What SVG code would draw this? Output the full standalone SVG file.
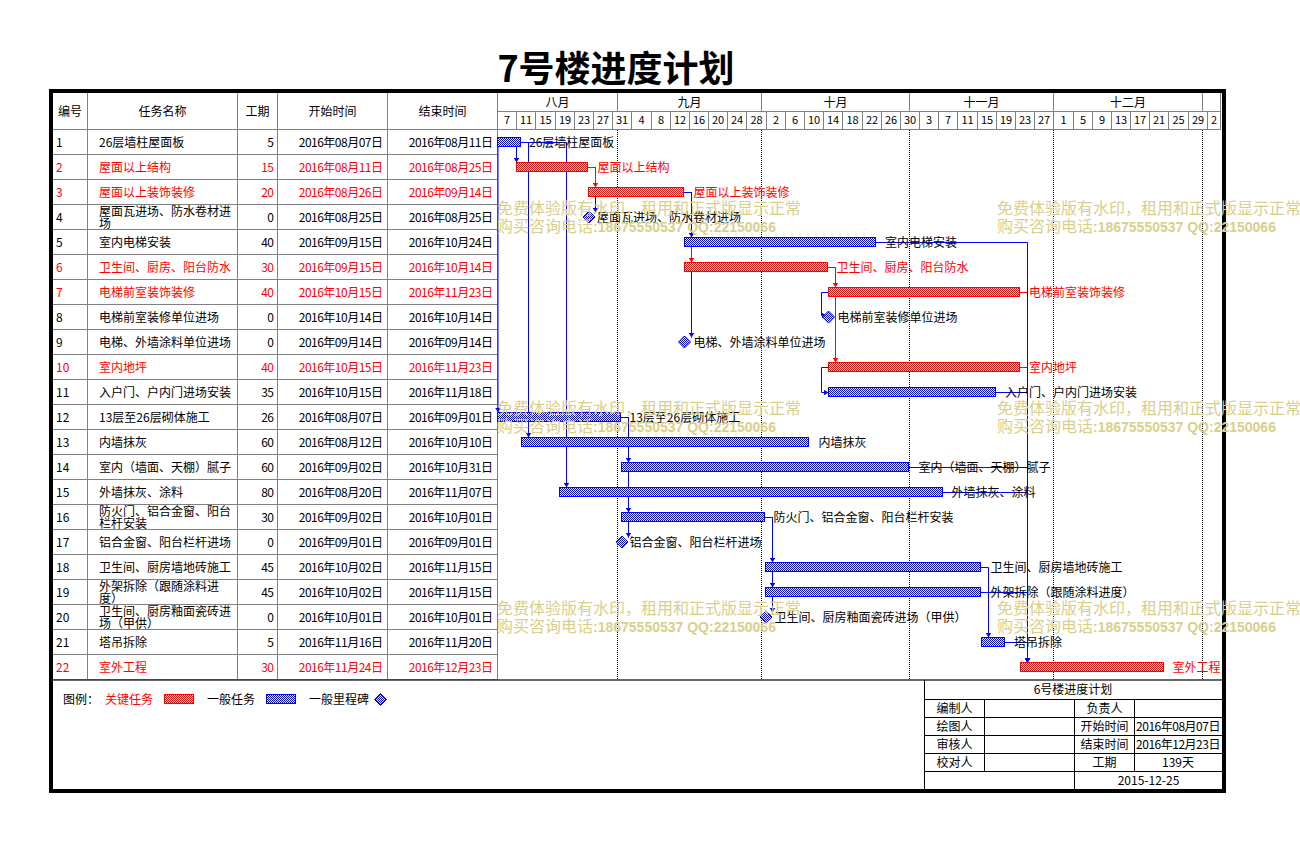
<svg xmlns="http://www.w3.org/2000/svg" width="1300" height="841" viewBox="0 0 1300 841">
<defs>
<style>
text{font-family:"Noto Sans CJK SC","Noto Sans",sans-serif;font-size:12px;fill:#000}
.r{fill:#f00}
.m{text-anchor:middle}
.e{text-anchor:end;letter-spacing:-0.5px}
.dt{letter-spacing:-0.5px}
.d{font-size:11px;text-anchor:middle}
.g{stroke:#808080;stroke-width:1;fill:none}
.k{stroke:#000;stroke-width:1;fill:none}
.dot{stroke:#000;stroke-width:1;stroke-dasharray:1 1;fill:none}
.lb{stroke:#00f;stroke-width:1;fill:none;marker-end:url(#ab)}
.lr{stroke:#f00;stroke-width:1;fill:none;marker-end:url(#ar)}
.bb{fill:url(#pb);stroke:#00f;stroke-width:1}
.br{fill:url(#pr);stroke:#f00;stroke-width:1}
.ms{fill:url(#pb);stroke:#00f;stroke-width:1}
.wm{font-size:16px;fill:#d9cf8c}
.wb{font-family:"Liberation Sans",sans-serif;font-size:14px;font-weight:bold;fill:#d9cf8c}
</style>
<pattern id="pb" width="2" height="2" patternUnits="userSpaceOnUse"><rect width="2" height="2" fill="#fff"/><rect width="1" height="1" fill="#00f"/><rect x="1" y="1" width="1" height="1" fill="#00f"/></pattern>
<pattern id="pr" width="2" height="2" patternUnits="userSpaceOnUse"><rect width="2" height="2" fill="#fff"/><rect width="1" height="1" fill="#f00"/><rect x="1" y="1" width="1" height="1" fill="#f00"/></pattern>
<marker id="ab" viewBox="0 0 5 6" refX="5" refY="3" markerWidth="5" markerHeight="6" markerUnits="userSpaceOnUse" orient="auto"><path d="M0,0 L5,3 L0,6 z" fill="#00f"/></marker>
<marker id="ar" viewBox="0 0 5 6" refX="5" refY="3" markerWidth="5" markerHeight="6" markerUnits="userSpaceOnUse" orient="auto"><path d="M0,0 L5,3 L0,6 z" fill="#f00"/></marker>
</defs>
<rect width="1300" height="841" fill="#fff"/>
<text x="616" y="82" class="m" style="font-size:36px;font-weight:bold">7号楼进度计划</text>

<g id="grid">
<path class="g" d="M53,129.5 H1220.5 M497.5,111.5 H1220.5 M53,154.5 H497.5 M53,179.5 H497.5 M53,204.5 H497.5 M53,229.5 H497.5 M53,254.5 H497.5 M53,279.5 H497.5 M53,304.5 H497.5 M53,329.5 H497.5 M53,354.5 H497.5 M53,379.5 H497.5 M53,404.5 H497.5 M53,429.5 H497.5 M53,454.5 H497.5 M53,479.5 H497.5 M53,504.5 H497.5 M53,529.5 H497.5 M53,554.5 H497.5 M53,579.5 H497.5 M53,604.5 H497.5 M53,629.5 H497.5 M53,654.5 H497.5 M53,679.5 H497.5"/>
<path class="g" d="M87.5,93 V679.5 M237.5,93 V679.5 M277.5,93 V679.5 M387.5,93 V679.5 M497.5,93 V679.5"/>
<path class="g" d="M617.5,93 V111.5 M761.5,93 V111.5 M909.5,93 V111.5 M1053.5,93 V111.5 M1202.5,93 V111.5 M1220.5,93 V129.5"/>
<path class="g" d="M516.5,111.5V129.5M535.5,111.5V129.5M555.5,111.5V129.5M574.5,111.5V129.5M593.5,111.5V129.5M612.5,111.5V129.5M631.5,111.5V129.5M651.5,111.5V129.5M670.5,111.5V129.5M689.5,111.5V129.5M708.5,111.5V129.5M727.5,111.5V129.5M746.5,111.5V129.5M766.5,111.5V129.5M785.5,111.5V129.5M804.5,111.5V129.5M823.5,111.5V129.5M842.5,111.5V129.5M862.5,111.5V129.5M881.5,111.5V129.5M900.5,111.5V129.5M919.5,111.5V129.5M938.5,111.5V129.5M957.5,111.5V129.5M977.5,111.5V129.5M996.5,111.5V129.5M1015.5,111.5V129.5M1034.5,111.5V129.5M1053.5,111.5V129.5M1073.5,111.5V129.5M1092.5,111.5V129.5M1111.5,111.5V129.5M1130.5,111.5V129.5M1149.5,111.5V129.5M1168.5,111.5V129.5M1188.5,111.5V129.5M1207.5,111.5V129.5"/>
<path class="dot" d="M617.5,130 V679 M761.5,130 V679 M909.5,130 V679 M1053.5,130 V679 M1202.5,130 V679"/>
<text x="70" y="115.5" class="m">编号</text>
<text x="162.5" y="115.5" class="m">任务名称</text>
<text x="257.5" y="115.5" class="m">工期</text>
<text x="332.5" y="115.5" class="m">开始时间</text>
<text x="442.5" y="115.5" class="m">结束时间</text>
<text x="557.5" y="106.5" class="m">八月</text>
<text x="689.5" y="106.5" class="m">九月</text>
<text x="835.5" y="106.5" class="m">十月</text>
<text x="981.5" y="106.5" class="m">十一月</text>
<text x="1128" y="106.5" class="m">十二月</text>
<text y="124" class="d"><tspan x="507">7</tspan><tspan x="526">11</tspan><tspan x="545.5">15</tspan><tspan x="565">19</tspan><tspan x="584">23</tspan><tspan x="603">27</tspan><tspan x="622">31</tspan><tspan x="641.5">4</tspan><tspan x="661">8</tspan><tspan x="680">12</tspan><tspan x="699">16</tspan><tspan x="718">20</tspan><tspan x="737">24</tspan><tspan x="756.5">28</tspan><tspan x="776">2</tspan><tspan x="795">6</tspan><tspan x="814">10</tspan><tspan x="833">14</tspan><tspan x="852.5">18</tspan><tspan x="872">22</tspan><tspan x="891">26</tspan><tspan x="910">30</tspan><tspan x="929">3</tspan><tspan x="948">7</tspan><tspan x="967.5">11</tspan><tspan x="987">15</tspan><tspan x="1006">19</tspan><tspan x="1025">23</tspan><tspan x="1044">27</tspan><tspan x="1063.5">1</tspan><tspan x="1083">5</tspan><tspan x="1102">9</tspan><tspan x="1121">13</tspan><tspan x="1140">17</tspan><tspan x="1159">21</tspan><tspan x="1178.5">25</tspan><tspan x="1198">29</tspan><tspan x="1214">2</tspan></text>
</g>

<g id="connectors">
<path class="lb" d="M498,146.5 V412.5"/>
<path class="lb" d="M516.5,146.5 V162.5"/>
<path class="lb" d="M520.5,142.5 H528.5 V437.5"/>
<path class="lb" d="M520.5,142.5 H566.5 V487.5"/>
<path class="lb" d="M587.5,167.5 H595.5 V212.5"/>
<path class="lr" d="M587.5,167.5 H595.5 V187.5"/>
<path class="lb" d="M683.5,192.5 H691.5 V337.5"/>
<path class="lr" d="M683.5,192.5 H691.5 V262.5"/>
<path class="lb" d="M683.5,192.5 H691.5 V237.5"/>
<path class="lr" d="M827.5,267.5 H835.5 V362.5"/>
<path class="lr" d="M827.5,267.5 H835.5 V287.5"/>
<path class="lb" d="M828.5,292.5 H821.5 V315.5 H826.5"/>
<path class="lb" d="M828.5,367.5 H821.5 V392.5 H828.5"/>
<path class="lb" d="M620.5,417.5 H628.5 V537.5"/>
<path class="lb" d="M620.5,417.5 H628.5 V512.5"/>
<path class="lb" d="M620.5,417.5 H628.5 V462.5"/>
<path class="lb" d="M764.5,517.5 H772.5 V612.5"/>
<path class="lb" d="M764.5,517.5 H772.5 V587.5"/>
<path class="lb" d="M764.5,517.5 H772.5 V562.5"/>
<path class="lb" d="M980.5,567.5 H988.5 V637.5"/>
<path class="lr" d="M1019.5,292.5 H1027.5 V662.5"/>
<path class="lr" d="M1019.5,367.5 H1027.5 V662.5"/>
<path class="lb" d="M875.5,242.5 H1027.5 V662.5"/>
<path class="lb" d="M995.5,392.5 H1027.5 V662.5"/>
<path class="lb" d="M908.5,467.5 H1027.5 V662.5"/>
<path class="lb" d="M942.5,492.5 H1027.5 V662.5"/>
<path class="lb" d="M980.5,592.5 H1027.5 V662.5"/>
<path class="lb" d="M1004.5,642.5 H1027.5 V662.5"/>
</g>

<g id="task1"><text x="56" y="146.5">1</text><text x="99" y="146.5">26层墙柱屋面板</text><text x="273.5" y="146.5" class="e">5</text><text x="382.5" y="146.5" class="e">2016年08月07日</text><text x="492.5" y="146.5" class="e">2016年08月11日</text><rect class="bb" x="497.5" y="137.5" width="23" height="9"/><text x="529" y="146.5">26层墙柱屋面板</text></g>
<g id="task2"><text x="56" y="171.5" class="r">2</text><text x="99" y="171.5" class="r">屋面以上结构</text><text x="273.5" y="171.5" class="e r">15</text><text x="382.5" y="171.5" class="e r">2016年08月11日</text><text x="492.5" y="171.5" class="e r">2016年08月25日</text><rect class="br" x="516.5" y="162.5" width="71" height="9"/><text x="597.5" y="171.5" class="r">屋面以上结构</text></g>
<g id="task3"><text x="56" y="196.5" class="r">3</text><text x="99" y="196.5" class="r">屋面以上装饰装修</text><text x="273.5" y="196.5" class="e r">20</text><text x="382.5" y="196.5" class="e r">2016年08月26日</text><text x="492.5" y="196.5" class="e r">2016年09月14日</text><rect class="br" x="588.5" y="187.5" width="95" height="9"/><text x="693.5" y="196.5" class="r">屋面以上装饰装修</text></g>
<g id="task4"><text x="56" y="221.5">4</text><text x="99" y="215.5">屋面瓦进场、防水卷材进</text><text x="99" y="227.5">场</text><text x="273.5" y="221.5" class="e">0</text><text x="382.5" y="221.5" class="e">2016年08月25日</text><text x="492.5" y="221.5" class="e">2016年08月25日</text><polygon class="ms" points="589,211 595,217 589,223 583,217"/><text x="597" y="221.5">屋面瓦进场、防水卷材进场</text></g>
<g id="task5"><text x="56" y="246.5">5</text><text x="99" y="246.5">室内电梯安装</text><text x="273.5" y="246.5" class="e">40</text><text x="382.5" y="246.5" class="e">2016年09月15日</text><text x="492.5" y="246.5" class="e">2016年10月24日</text><rect class="bb" x="684.5" y="237.5" width="191" height="9"/><text x="885" y="246.5">室内电梯安装</text></g>
<g id="task6"><text x="56" y="271.5" class="r">6</text><text x="99" y="271.5" class="r">卫生间、厨房、阳台防水</text><text x="273.5" y="271.5" class="e r">30</text><text x="382.5" y="271.5" class="e r">2016年09月15日</text><text x="492.5" y="271.5" class="e r">2016年10月14日</text><rect class="br" x="684.5" y="262.5" width="143" height="9"/><text x="836.5" y="271.5" class="r">卫生间、厨房、阳台防水</text></g>
<g id="task7"><text x="56" y="296.5" class="r">7</text><text x="99" y="296.5" class="r">电梯前室装饰装修</text><text x="273.5" y="296.5" class="e r">40</text><text x="382.5" y="296.5" class="e r">2016年10月15日</text><text x="492.5" y="296.5" class="e r">2016年11月23日</text><rect class="br" x="828.5" y="287.5" width="191" height="9"/><text x="1029" y="296.5" class="r">电梯前室装饰装修</text></g>
<g id="task8"><text x="56" y="321.5">8</text><text x="99" y="321.5">电梯前室装修单位进场</text><text x="273.5" y="321.5" class="e">0</text><text x="382.5" y="321.5" class="e">2016年10月14日</text><text x="492.5" y="321.5" class="e">2016年10月14日</text><polygon class="ms" points="828.5,311 834.5,317 828.5,323 822.5,317"/><text x="837.5" y="321.5">电梯前室装修单位进场</text></g>
<g id="task9"><text x="56" y="346.5">9</text><text x="99" y="346.5">电梯、外墙涂料单位进场</text><text x="273.5" y="346.5" class="e">0</text><text x="382.5" y="346.5" class="e">2016年09月14日</text><text x="492.5" y="346.5" class="e">2016年09月14日</text><polygon class="ms" points="684.5,336 690.5,342 684.5,348 678.5,342"/><text x="693.5" y="346.5">电梯、外墙涂料单位进场</text></g>
<g id="task10"><text x="56" y="371.5" class="r">10</text><text x="99" y="371.5" class="r">室内地坪</text><text x="273.5" y="371.5" class="e r">40</text><text x="382.5" y="371.5" class="e r">2016年10月15日</text><text x="492.5" y="371.5" class="e r">2016年11月23日</text><rect class="br" x="828.5" y="362.5" width="191" height="9"/><text x="1029" y="371.5" class="r">室内地坪</text></g>
<g id="task11"><text x="56" y="396.5">11</text><text x="99" y="396.5">入户门、户内门进场安装</text><text x="273.5" y="396.5" class="e">35</text><text x="382.5" y="396.5" class="e">2016年10月15日</text><text x="492.5" y="396.5" class="e">2016年11月18日</text><rect class="bb" x="828.5" y="387.5" width="167" height="9"/><text x="1005" y="396.5">入户门、户内门进场安装</text></g>
<g id="task12"><text x="56" y="421.5">12</text><text x="99" y="421.5">13层至26层砌体施工</text><text x="273.5" y="421.5" class="e">26</text><text x="382.5" y="421.5" class="e">2016年08月07日</text><text x="492.5" y="421.5" class="e">2016年09月01日</text><rect class="bb" x="497.5" y="412.5" width="123" height="9"/><text x="629.5" y="421.5">13层至26层砌体施工</text></g>
<g id="task13"><text x="56" y="446.5">13</text><text x="99" y="446.5">内墙抹灰</text><text x="273.5" y="446.5" class="e">60</text><text x="382.5" y="446.5" class="e">2016年08月12日</text><text x="492.5" y="446.5" class="e">2016年10月10日</text><rect class="bb" x="521.5" y="437.5" width="287" height="9"/><text x="818.5" y="446.5">内墙抹灰</text></g>
<g id="task14"><text x="56" y="471.5">14</text><text x="99" y="471.5">室内（墙面、天棚）腻子</text><text x="273.5" y="471.5" class="e">60</text><text x="382.5" y="471.5" class="e">2016年09月02日</text><text x="492.5" y="471.5" class="e">2016年10月31日</text><rect class="bb" x="621.5" y="462.5" width="287" height="9"/><text x="918.5" y="471.5">室内（墙面、天棚）腻子</text></g>
<g id="task15"><text x="56" y="496.5">15</text><text x="99" y="496.5">外墙抹灰、涂料</text><text x="273.5" y="496.5" class="e">80</text><text x="382.5" y="496.5" class="e">2016年08月20日</text><text x="492.5" y="496.5" class="e">2016年11月07日</text><rect class="bb" x="559.5" y="487.5" width="383" height="9"/><text x="951.5" y="496.5">外墙抹灰、涂料</text></g>
<g id="task16"><text x="56" y="521.5">16</text><text x="99" y="515.5">防火门、铝合金窗、阳台</text><text x="99" y="527.5">栏杆安装</text><text x="273.5" y="521.5" class="e">30</text><text x="382.5" y="521.5" class="e">2016年09月02日</text><text x="492.5" y="521.5" class="e">2016年10月01日</text><rect class="bb" x="621.5" y="512.5" width="143" height="9"/><text x="773.5" y="521.5">防火门、铝合金窗、阳台栏杆安装</text></g>
<g id="task17"><text x="56" y="546.5">17</text><text x="99" y="546.5">铝合金窗、阳台栏杆进场</text><text x="273.5" y="546.5" class="e">0</text><text x="382.5" y="546.5" class="e">2016年09月01日</text><text x="492.5" y="546.5" class="e">2016年09月01日</text><polygon class="ms" points="622,536 628,542 622,548 616,542"/><text x="629.5" y="546.5">铝合金窗、阳台栏杆进场</text></g>
<g id="task18"><text x="56" y="571.5">18</text><text x="99" y="571.5">卫生间、厨房墙地砖施工</text><text x="273.5" y="571.5" class="e">45</text><text x="382.5" y="571.5" class="e">2016年10月02日</text><text x="492.5" y="571.5" class="e">2016年11月15日</text><rect class="bb" x="765.5" y="562.5" width="215" height="9"/><text x="990.5" y="571.5">卫生间、厨房墙地砖施工</text></g>
<g id="task19"><text x="56" y="596.5">19</text><text x="99" y="590.5">外架拆除（跟随涂料进</text><text x="99" y="602.5">度）</text><text x="273.5" y="596.5" class="e">45</text><text x="382.5" y="596.5" class="e">2016年10月02日</text><text x="492.5" y="596.5" class="e">2016年11月15日</text><rect class="bb" x="765.5" y="587.5" width="215" height="9"/><text x="990.5" y="596.5">外架拆除（跟随涂料进度）</text></g>
<g id="task20"><text x="56" y="621.5">20</text><text x="99" y="615.5">卫生间、厨房釉面瓷砖进</text><text x="99" y="627.5">场（甲供）</text><text x="273.5" y="621.5" class="e">0</text><text x="382.5" y="621.5" class="e">2016年10月01日</text><text x="492.5" y="621.5" class="e">2016年10月01日</text><polygon class="ms" points="766,611 772,617 766,623 760,617"/><text x="774.5" y="621.5">卫生间、厨房釉面瓷砖进场（甲供）</text></g>
<g id="task21"><text x="56" y="646.5">21</text><text x="99" y="646.5">塔吊拆除</text><text x="273.5" y="646.5" class="e">5</text><text x="382.5" y="646.5" class="e">2016年11月16日</text><text x="492.5" y="646.5" class="e">2016年11月20日</text><rect class="bb" x="981.5" y="637.5" width="23" height="9"/><text x="1014" y="646.5">塔吊拆除</text></g>
<g id="task22"><text x="56" y="671.5" class="r">22</text><text x="99" y="671.5" class="r">室外工程</text><text x="273.5" y="671.5" class="e r">30</text><text x="382.5" y="671.5" class="e r">2016年11月24日</text><text x="492.5" y="671.5" class="e r">2016年12月23日</text><rect class="br" x="1020.5" y="662.5" width="143" height="9"/><text x="1172.5" y="671.5" class="r">室外工程</text></g>

<g id="legend">
<line x1="53" y1="680" x2="1222" y2="680" stroke="#333" stroke-width="1.5"/>
<text x="63" y="703.5">图例：</text>
<text x="105" y="703.5" class="r">关键任务</text>
<rect class="br" x="164.5" y="694.5" width="29" height="9"/>
<text x="207" y="703.5">一般任务</text>
<rect class="bb" x="266.5" y="694.5" width="29" height="9"/>
<text x="309" y="703.5">一般里程碑</text>
<polygon class="ms" points="380.5,693.5 386.5,699.5 380.5,705.5 374.5,699.5"/>
</g>

<g id="titleblock">
<path class="k" d="M924.5,680 V789 M924.5,699.5 H1222 M924.5,717.5 H1222 M924.5,735.5 H1222 M924.5,753.5 H1222 M924.5,771.5 H1222 M984.5,699.5 V771.5 M1074.5,699.5 V789 M1134.5,699.5 V771.5"/>
<text x="1073" y="694" class="m">6号楼进度计划</text>
<text x="954.5" y="713" class="m">编制人</text>
<text x="1104.5" y="713" class="m">负责人</text>
<text x="954.5" y="731" class="m">绘图人</text>
<text x="1104.5" y="731" class="m">开始时间</text>
<text x="1178" y="731" class="m dt">2016年08月07日</text>
<text x="954.5" y="749" class="m">审核人</text>
<text x="1104.5" y="749" class="m">结束时间</text>
<text x="1178" y="749" class="m dt">2016年12月23日</text>
<text x="954.5" y="767" class="m">校对人</text>
<text x="1104.5" y="767" class="m">工期</text>
<text x="1178" y="767" class="m">139天</text>
<text x="1148.5" y="785" class="m">2015-12-25</text>
</g>

<rect x="51" y="91" width="1173" height="700" fill="none" stroke="#000" stroke-width="4"/>

<g id="watermarks">
<text x="497" y="214" class="wm">免费体验版有水印，租用和正式版显示正常</text>
<text x="497" y="232" class="wm">购买咨询电话<tspan class="wb">:18675550537 QQ:22150066</tspan></text>
<text x="997" y="214" class="wm">免费体验版有水印，租用和正式版显示正常</text>
<text x="997" y="232" class="wm">购买咨询电话<tspan class="wb">:18675550537 QQ:22150066</tspan></text>
<text x="497" y="414" class="wm">免费体验版有水印，租用和正式版显示正常</text>
<text x="497" y="432" class="wm">购买咨询电话<tspan class="wb">:18675550537 QQ:22150066</tspan></text>
<text x="997" y="414" class="wm">免费体验版有水印，租用和正式版显示正常</text>
<text x="997" y="432" class="wm">购买咨询电话<tspan class="wb">:18675550537 QQ:22150066</tspan></text>
<text x="497" y="614" class="wm">免费体验版有水印，租用和正式版显示正常</text>
<text x="497" y="632" class="wm">购买咨询电话<tspan class="wb">:18675550537 QQ:22150066</tspan></text>
<text x="997" y="614" class="wm">免费体验版有水印，租用和正式版显示正常</text>
<text x="997" y="632" class="wm">购买咨询电话<tspan class="wb">:18675550537 QQ:22150066</tspan></text>
</g>
</svg>
